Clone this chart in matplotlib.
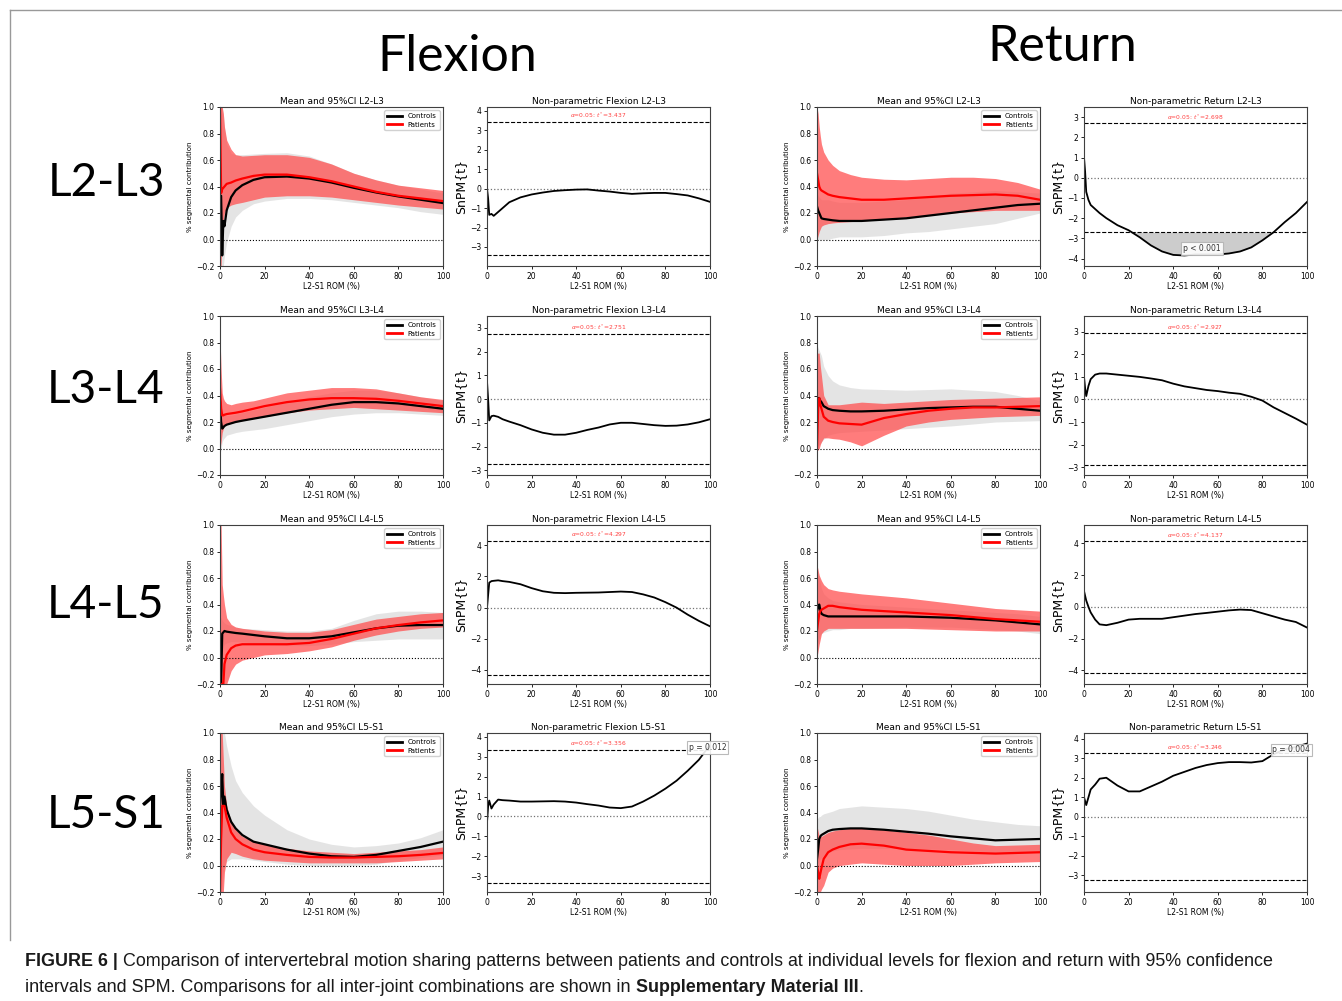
import numpy as np
import matplotlib
matplotlib.use("Agg")
from matplotlib import pyplot as plt
from matplotlib.lines import Line2D

# ---- data ----
LEVELS = ["L2-L3", "L3-L4", "L4-L5", "L5-S1"]

X_MEAN = [0, 0.5, 1, 1.5, 2, 3, 5, 7, 10, 15, 20, 30, 40, 50, 60, 70, 80, 90, 100]

# flexion, mean and 95% CI
flx_l23_ctrl = [0.33, 0.33, -0.12, 0.14, 0.10, 0.22, 0.32, 0.37, 0.41, 0.45, 0.47, 0.475, 0.46, 0.43, 0.39, 0.355, 0.325, 0.30, 0.275]
flx_l23_ctrl_lo = [-0.2, -0.2, -0.2, -0.2, -0.12, -0.02, 0.10, 0.17, 0.22, 0.27, 0.29, 0.31, 0.31, 0.30, 0.28, 0.26, 0.24, 0.21, 0.19]
flx_l23_ctrl_hi = [1.0, 1.0, 1.0, 0.95, 0.85, 0.72, 0.65, 0.64, 0.64, 0.645, 0.65, 0.655, 0.63, 0.57, 0.50, 0.45, 0.41, 0.38, 0.35]
flx_l23_pat = [1.0, 0.35, 0.38, 0.39, 0.40, 0.42, 0.43, 0.445, 0.46, 0.48, 0.49, 0.49, 0.47, 0.44, 0.40, 0.36, 0.33, 0.31, 0.29]
flx_l23_pat_lo = [-0.2, -0.2, 0.05, 0.15, 0.2, 0.24, 0.26, 0.27, 0.28, 0.30, 0.32, 0.33, 0.33, 0.32, 0.30, 0.28, 0.26, 0.245, 0.23]
flx_l23_pat_hi = [1.0, 1.0, 1.0, 0.95, 0.85, 0.75, 0.68, 0.64, 0.63, 0.635, 0.64, 0.64, 0.62, 0.57, 0.50, 0.45, 0.41, 0.39, 0.37]

flx_l34_ctrl = [0.35, 0.2, 0.15, 0.16, 0.17, 0.18, 0.19, 0.20, 0.21, 0.225, 0.24, 0.27, 0.30, 0.33, 0.35, 0.35, 0.34, 0.32, 0.30]
flx_l34_ctrl_lo = [-0.05, 0.0, 0.05, 0.07, 0.08, 0.1, 0.11, 0.12, 0.13, 0.14, 0.15, 0.18, 0.21, 0.24, 0.26, 0.27, 0.27, 0.26, 0.25]
flx_l34_ctrl_hi = [0.6, 0.45, 0.3, 0.27, 0.26, 0.25, 0.25, 0.26, 0.27, 0.29, 0.31, 0.35, 0.39, 0.42, 0.44, 0.44, 0.42, 0.39, 0.36]
flx_l34_pat = [0.45, 0.3, 0.25, 0.25, 0.255, 0.26, 0.265, 0.27, 0.28, 0.30, 0.32, 0.35, 0.37, 0.38, 0.38, 0.375, 0.36, 0.34, 0.32]
flx_l34_pat_lo = [0.0, 0.05, 0.12, 0.15, 0.17, 0.18, 0.19, 0.20, 0.21, 0.23, 0.24, 0.27, 0.29, 0.30, 0.31, 0.30, 0.29, 0.28, 0.27]
flx_l34_pat_hi = [0.85, 0.6, 0.42, 0.38, 0.36, 0.34, 0.33, 0.34, 0.35, 0.36, 0.38, 0.42, 0.44, 0.46, 0.46, 0.45, 0.42, 0.39, 0.37]

flx_l45_ctrl = [-0.2, -0.2, 0.18, 0.19, 0.20, 0.195, 0.19, 0.185, 0.18, 0.17, 0.16, 0.145, 0.145, 0.16, 0.19, 0.22, 0.24, 0.245, 0.245]
flx_l45_ctrl_lo = [-0.2, -0.2, 0.05, 0.08, 0.10, 0.11, 0.12, 0.12, 0.12, 0.11, 0.10, 0.09, 0.09, 0.10, 0.12, 0.13, 0.14, 0.14, 0.14]
flx_l45_ctrl_hi = [0.3, 0.3, 0.28, 0.27, 0.26, 0.25, 0.24, 0.23, 0.22, 0.215, 0.21, 0.2, 0.2, 0.22, 0.28, 0.33, 0.35, 0.35, 0.34]
flx_l45_pat = [-0.2, -0.2, -0.2, -0.2, -0.05, 0.02, 0.07, 0.09, 0.10, 0.10, 0.10, 0.10, 0.11, 0.14, 0.18, 0.22, 0.245, 0.265, 0.28]
flx_l45_pat_lo = [-0.2, -0.2, -0.2, -0.2, -0.2, -0.2, -0.1, -0.05, -0.02, 0.0, 0.02, 0.03, 0.05, 0.08, 0.13, 0.17, 0.20, 0.22, 0.23]
flx_l45_pat_hi = [1.0, 1.0, 0.55, 0.47, 0.40, 0.30, 0.25, 0.23, 0.22, 0.21, 0.20, 0.19, 0.19, 0.21, 0.25, 0.29, 0.31, 0.33, 0.34]

flx_l5s1_ctrl = [0.45, 0.55, 0.69, 0.45, 0.52, 0.42, 0.33, 0.28, 0.23, 0.18, 0.16, 0.12, 0.09, 0.07, 0.065, 0.08, 0.11, 0.14, 0.18]
flx_l5s1_ctrl_lo = [-0.2, -0.2, -0.15, -0.05, 0.0, 0.03, 0.05, 0.05, 0.05, 0.04, 0.03, 0.01, 0.0, 0.0, 0.0, 0.01, 0.04, 0.06, 0.08]
flx_l5s1_ctrl_hi = [1.0, 1.0, 1.0, 1.0, 1.0, 0.9, 0.75, 0.64, 0.55, 0.45, 0.38, 0.27, 0.2, 0.16, 0.14, 0.15, 0.17, 0.21, 0.27]
flx_l5s1_pat = [-0.2, 0.2, 0.45, 0.45, 0.45, 0.36, 0.25, 0.2, 0.16, 0.12, 0.10, 0.08, 0.065, 0.06, 0.06, 0.065, 0.07, 0.08, 0.095]
flx_l5s1_pat_lo = [-0.2, -0.2, -0.2, -0.2, -0.05, 0.05, 0.1, 0.09, 0.07, 0.05, 0.04, 0.03, 0.02, 0.02, 0.02, 0.02, 0.03, 0.04, 0.05]
flx_l5s1_pat_hi = [1.0, 1.0, 1.0, 0.8, 0.6, 0.45, 0.33, 0.27, 0.22, 0.18, 0.16, 0.13, 0.11, 0.10, 0.09, 0.10, 0.11, 0.12, 0.14]

# return, mean and 95% CI
ret_l23_ctrl = [0.25, 0.22, 0.2, 0.18, 0.16, 0.155, 0.15, 0.145, 0.14, 0.14, 0.14, 0.15, 0.16, 0.18, 0.20, 0.22, 0.24, 0.26, 0.27]
ret_l23_ctrl_lo = [0.0, 0.0, 0.0, 0.0, 0.0, 0.0, 0.0, 0.01, 0.02, 0.02, 0.02, 0.03, 0.05, 0.06, 0.08, 0.10, 0.12, 0.16, 0.2]
ret_l23_ctrl_hi = [0.35, 0.33, 0.32, 0.31, 0.3, 0.3, 0.3, 0.29, 0.28, 0.28, 0.28, 0.29, 0.3, 0.32, 0.35, 0.36, 0.37, 0.36, 0.35]
ret_l23_pat = [0.5, 0.45, 0.4, 0.38, 0.37, 0.36, 0.34, 0.33, 0.32, 0.31, 0.30, 0.30, 0.31, 0.32, 0.33, 0.335, 0.34, 0.33, 0.30]
ret_l23_pat_lo = [0.0, 0.03, 0.06, 0.08, 0.1, 0.11, 0.12, 0.125, 0.13, 0.135, 0.14, 0.15, 0.17, 0.185, 0.2, 0.21, 0.22, 0.22, 0.22]
ret_l23_pat_hi = [1.0, 0.95, 0.85, 0.78, 0.72, 0.66, 0.6, 0.56, 0.52, 0.49, 0.47, 0.455, 0.45, 0.46, 0.47, 0.47, 0.46, 0.43, 0.38]

ret_l34_ctrl = [0.2, 0.38, 0.38, 0.36, 0.35, 0.32, 0.30, 0.29, 0.285, 0.28, 0.28, 0.285, 0.295, 0.305, 0.31, 0.315, 0.315, 0.30, 0.285]
ret_l34_ctrl_lo = [0.0, 0.02, 0.03, 0.04, 0.05, 0.07, 0.1, 0.11, 0.12, 0.125, 0.13, 0.14, 0.15, 0.16, 0.17, 0.185, 0.2, 0.205, 0.21]
ret_l34_ctrl_hi = [0.78, 0.76, 0.74, 0.72, 0.7, 0.62, 0.55, 0.51, 0.48, 0.46, 0.45, 0.445, 0.44, 0.445, 0.45, 0.44, 0.43, 0.4, 0.36]
ret_l34_pat = [0.0, 0.3, 0.38, 0.33, 0.3, 0.24, 0.21, 0.2, 0.19, 0.185, 0.18, 0.23, 0.26, 0.285, 0.30, 0.31, 0.31, 0.315, 0.32]
ret_l34_pat_lo = [-0.02, -0.01, 0.0, 0.03, 0.05, 0.08, 0.08, 0.075, 0.07, 0.05, 0.02, 0.1, 0.17, 0.2, 0.22, 0.23, 0.24, 0.245, 0.25]
ret_l34_pat_hi = [0.72, 0.72, 0.72, 0.62, 0.55, 0.40, 0.33, 0.33, 0.33, 0.34, 0.35, 0.34, 0.35, 0.36, 0.37, 0.375, 0.38, 0.385, 0.39]

ret_l45_ctrl = [0.35, 0.38, 0.4, 0.36, 0.33, 0.32, 0.31, 0.31, 0.31, 0.31, 0.31, 0.31, 0.31, 0.305, 0.30, 0.29, 0.28, 0.265, 0.25]
ret_l45_ctrl_lo = [0.1, 0.12, 0.15, 0.17, 0.18, 0.19, 0.2, 0.21, 0.21, 0.22, 0.22, 0.225, 0.23, 0.23, 0.23, 0.22, 0.21, 0.2, 0.18]
ret_l45_ctrl_hi = [0.65, 0.62, 0.6, 0.56, 0.52, 0.48, 0.45, 0.43, 0.42, 0.41, 0.40, 0.39, 0.38, 0.37, 0.36, 0.35, 0.34, 0.33, 0.31]
ret_l45_pat = [0.2, 0.27, 0.33, 0.35, 0.36, 0.37, 0.39, 0.39, 0.38, 0.37, 0.36, 0.35, 0.34, 0.33, 0.32, 0.305, 0.29, 0.28, 0.27]
ret_l45_pat_lo = [0.0, 0.05, 0.1, 0.14, 0.18, 0.2, 0.22, 0.22, 0.22, 0.22, 0.22, 0.22, 0.22, 0.215, 0.21, 0.205, 0.2, 0.2, 0.2]
ret_l45_pat_hi = [0.7, 0.66, 0.62, 0.6, 0.58, 0.55, 0.52, 0.51, 0.5, 0.49, 0.48, 0.465, 0.45, 0.43, 0.41, 0.39, 0.37, 0.36, 0.35]

ret_l5s1_ctrl = [0.05, 0.12, 0.2, 0.22, 0.23, 0.24, 0.26, 0.27, 0.275, 0.28, 0.28, 0.27, 0.255, 0.24, 0.22, 0.205, 0.19, 0.195, 0.2]
ret_l5s1_ctrl_lo = [0.0, 0.02, 0.04, 0.05, 0.06, 0.08, 0.1, 0.11, 0.12, 0.125, 0.13, 0.13, 0.13, 0.125, 0.12, 0.11, 0.1, 0.1, 0.1]
ret_l5s1_ctrl_hi = [0.35, 0.36, 0.37, 0.37, 0.38, 0.39, 0.4, 0.41, 0.43, 0.44, 0.45, 0.44, 0.43, 0.41, 0.38, 0.35, 0.33, 0.31, 0.3]
ret_l5s1_pat = [0.0, -0.05, -0.1, -0.06, -0.02, 0.05, 0.1, 0.12, 0.14, 0.16, 0.165, 0.15, 0.12, 0.11, 0.1, 0.095, 0.09, 0.095, 0.1]
ret_l5s1_pat_lo = [-0.2, -0.2, -0.2, -0.2, -0.18, -0.15, -0.05, -0.02, 0.0, 0.01, 0.02, 0.01, 0.0, 0.0, 0.0, 0.01, 0.02, 0.025, 0.03]
ret_l5s1_pat_hi = [0.3, 0.26, 0.22, 0.22, 0.22, 0.23, 0.25, 0.26, 0.27, 0.28, 0.28, 0.27, 0.25, 0.23, 0.2, 0.17, 0.15, 0.155, 0.16]

# SnPM{t} curves
X_SPM = [0, 0.5, 1, 2, 3, 5, 7, 10, 15, 20, 25, 30, 35, 40, 45, 50, 55, 60, 65, 70, 75, 80, 85, 90, 95, 100]
flx_l23_t = [0.0, -0.5, -1.35, -1.3, -1.4, -1.2, -1.0, -0.7, -0.45, -0.3, -0.2, -0.12, -0.08, -0.05, -0.04, -0.1, -0.15, -0.22, -0.27, -0.24, -0.22, -0.22, -0.28, -0.35, -0.5, -0.68]
flx_l34_t = [0.75, 0.0, -0.9, -0.72, -0.7, -0.75, -0.85, -0.95, -1.1, -1.28, -1.42, -1.5, -1.5, -1.42, -1.3, -1.2, -1.07, -1.0, -1.0, -1.05, -1.1, -1.13, -1.12, -1.07, -0.98, -0.85]
flx_l45_t = [0.0, 0.8, 1.6, 1.7, 1.72, 1.75, 1.7, 1.65, 1.5, 1.25, 1.05, 0.95, 0.93, 0.95, 0.96, 0.97, 1.0, 1.03, 1.0, 0.85, 0.65, 0.35, 0.0, -0.45, -0.85, -1.2]
flx_l5s1_t = [-0.3, 0.5, 0.8, 0.4, 0.6, 0.85, 0.82, 0.8, 0.75, 0.75, 0.76, 0.77, 0.75, 0.7, 0.62, 0.55, 0.45, 0.42, 0.5, 0.75, 1.05, 1.4, 1.8, 2.3, 2.85, 3.6]
ret_l23_t = [1.0, 0.3, -0.7, -1.1, -1.35, -1.55, -1.75, -2.0, -2.35, -2.6, -2.95, -3.35, -3.65, -3.82, -3.85, -3.8, -3.8, -3.8, -3.75, -3.65, -3.45, -3.1, -2.7, -2.2, -1.75, -1.2]
ret_l34_t = [1.0, 0.5, 0.15, 0.6, 0.9, 1.1, 1.15, 1.15, 1.1, 1.05, 1.0, 0.93, 0.85, 0.7, 0.58, 0.5, 0.42, 0.37, 0.3, 0.25, 0.12, -0.05, -0.35, -0.6, -0.85, -1.12]
ret_l45_t = [1.0, 0.7, 0.4, 0.0, -0.35, -0.8, -1.1, -1.15, -1.0, -0.8, -0.75, -0.75, -0.75, -0.65, -0.55, -0.45, -0.38, -0.3, -0.22, -0.17, -0.2, -0.4, -0.6, -0.8, -0.95, -1.3]
ret_l5s1_t = [1.0, 0.8, 0.6, 1.0, 1.4, 1.65, 1.95, 2.0, 1.6, 1.3, 1.3, 1.55, 1.8, 2.1, 2.3, 2.5, 2.65, 2.75, 2.8, 2.8, 2.78, 2.85, 3.2, 3.45, 3.58, 3.75]

flx_thresh = [3.437, 2.751, 4.297, 3.356]
ret_thresh = [2.698, 2.927, 4.137, 3.246]

# cluster p values: (level index, label, x, y)
flx_clusters = [(3, "p = 0.012", 99, 3.45)]
ret_clusters = [(0, "p < 0.001", 53, -3.49), (3, "p = 0.004", 93, 3.42)]

flx_mean = [
    (flx_l23_ctrl, flx_l23_ctrl_lo, flx_l23_ctrl_hi, flx_l23_pat, flx_l23_pat_lo, flx_l23_pat_hi),
    (flx_l34_ctrl, flx_l34_ctrl_lo, flx_l34_ctrl_hi, flx_l34_pat, flx_l34_pat_lo, flx_l34_pat_hi),
    (flx_l45_ctrl, flx_l45_ctrl_lo, flx_l45_ctrl_hi, flx_l45_pat, flx_l45_pat_lo, flx_l45_pat_hi),
    (flx_l5s1_ctrl, flx_l5s1_ctrl_lo, flx_l5s1_ctrl_hi, flx_l5s1_pat, flx_l5s1_pat_lo, flx_l5s1_pat_hi),
]
ret_mean = [
    (ret_l23_ctrl, ret_l23_ctrl_lo, ret_l23_ctrl_hi, ret_l23_pat, ret_l23_pat_lo, ret_l23_pat_hi),
    (ret_l34_ctrl, ret_l34_ctrl_lo, ret_l34_ctrl_hi, ret_l34_pat, ret_l34_pat_lo, ret_l34_pat_hi),
    (ret_l45_ctrl, ret_l45_ctrl_lo, ret_l45_ctrl_hi, ret_l45_pat, ret_l45_pat_lo, ret_l45_pat_hi),
    (ret_l5s1_ctrl, ret_l5s1_ctrl_lo, ret_l5s1_ctrl_hi, ret_l5s1_pat, ret_l5s1_pat_lo, ret_l5s1_pat_hi),
]
flx_t = [flx_l23_t, flx_l34_t, flx_l45_t, flx_l5s1_t]
ret_t = [ret_l23_t, ret_l34_t, ret_l45_t, ret_l5s1_t]

flx_ylim = [(-3.98, 4.2), (-3.2, 3.5), (-4.9, 5.3), (-3.8, 4.2)]
ret_ylim = [(-4.37, 3.5), (-3.35, 3.7), (-4.85, 5.15), (-3.85, 4.29)]

TICK = 5.5

W, H = 1342, 1001
fig = plt.figure(figsize=(W / 100, H / 100), dpi=100)

col_left = [220, 487, 817, 1084]
row_bottom = [266, 475, 684, 892]
ax_w, ax_h = 223, 159


def style_axis(ax):
    ax.tick_params(labelsize=TICK, length=2.5, width=0.6, pad=1.5)
    for s in ax.spines.values():
        s.set_linewidth(0.8)
        s.set_color("0.25")
    ax.set_xlim(0, 100)
    ax.set_xticks([0, 20, 40, 60, 80, 100])
    ax.set_xlabel("L2-S1 ROM (%)", fontsize=TICK, labelpad=1)


def mean_panel(ax, data, level):
    c, clo, chi, p, plo, phi = data
    ax.fill_between(X_MEAN, clo, chi, color="lightgray", lw=0, alpha=0.6)
    ax.fill_between(X_MEAN, plo, phi, color="#ff5050", lw=0, alpha=0.75)
    ax.axhline(0, color="k", ls=":", lw=0.8)
    ax.plot(X_MEAN, c, color="k", lw=1.6)
    ax.plot(X_MEAN, p, color="red", lw=1.6)
    ax.set_ylim(-0.2, 1.0)
    ax.set_yticks([-0.2, 0.0, 0.2, 0.4, 0.6, 0.8, 1.0])
    ax.set_title("Mean and 95%CI " + level, fontsize=6.5, pad=2.5)
    ax.set_ylabel("% segmental contribution", fontsize=5, labelpad=2)
    handles = [Line2D([], [], color="k", lw=2), Line2D([], [], color="red", lw=2)]
    ax.legend(handles, ["Controls", "Patients"], loc="upper right", fontsize=5,
              handlelength=2.2, borderpad=0.4, labelspacing=0.35, framealpha=0.9,
              edgecolor="0.8", fancybox=True)
    style_axis(ax)


def spm_panel(ax, t, thr, ylim, title, clusters):
    t = np.array(t)
    x = np.array(X_SPM)
    ax.fill_between(x, t, thr, where=t > thr, interpolate=True, color="0.8", lw=0)
    ax.fill_between(x, t, -thr, where=t < -thr, interpolate=True, color="0.8", lw=0)
    ax.axhline(0, color="0.45", ls=":", lw=0.9)
    ax.axhline(thr, color="k", ls="--", lw=0.8)
    ax.axhline(-thr, color="k", ls="--", lw=0.8)
    ax.plot(x, t, color="k", lw=1.3)
    ax.text(50, thr + 0.01 * (ylim[1] - ylim[0]),
            r"$\alpha$=0.05: $t^*$=%.3f" % thr, color="#ff4040", fontsize=4.3,
            ha="center", va="bottom")
    for lab, cx, cy in clusters:
        ax.text(cx, cy, lab, fontsize=5.5, ha="center", va="center", color="0.2",
                bbox=dict(boxstyle="square,pad=0.25", fc="white", ec="0.7", lw=0.8, alpha=0.9),
                zorder=5, clip_on=False)
    ax.set_ylim(*ylim)
    ax.set_title(title, fontsize=6.5, pad=2.5)
    ax.set_ylabel("SnPM{t}", fontsize=9, labelpad=2)
    style_axis(ax)


for i, level in enumerate(LEVELS):
    b = 1 - row_bottom[i] / H
    axes = [fig.add_axes([col_left[j] / W, b, ax_w / W, ax_h / H]) for j in range(4)]
    mean_panel(axes[0], flx_mean[i], level)
    spm_panel(axes[1], flx_t[i], flx_thresh[i], flx_ylim[i], "Non-parametric Flexion " + level,
              [(lab, cx, cy) for k, lab, cx, cy in flx_clusters if k == i])
    mean_panel(axes[2], ret_mean[i], level)
    spm_panel(axes[3], ret_t[i], ret_thresh[i], ret_ylim[i], "Non-parametric Return " + level,
              [(lab, cx, cy) for k, lab, cx, cy in ret_clusters if k == i])

# column headings and row labels
fig.text(457 / W, 1 - 57 / H, "Flexion", fontsize=36, family="Lato", ha="center", va="center")
fig.text(1062 / W, 1 - 47 / H, "Return", fontsize=36, family="Lato", ha="center", va="center")
row_y = [183, 390, 605, 815]
for lab, y in zip(LEVELS, row_y):
    fig.text(106 / W, 1 - y / H, lab, fontsize=33, family="Lato", ha="center", va="center")

# frame
fig.add_artist(Line2D([10 / W, 1342 / W], [1 - 10 / H, 1 - 10 / H], color="0.6", lw=1))
fig.add_artist(Line2D([10 / W, 10 / W], [1 - 10 / H, 1 - 940 / H], color="0.6", lw=1))

# caption, mixed bold/regular
cap_fs = 12.9
fig.canvas.draw()
r = fig.canvas.get_renderer()


def run_text(x_px, y_px, parts):
    for s, bold in parts:
        t = fig.text(x_px / W, 1 - y_px / H, s, fontsize=cap_fs, family="Liberation Sans",
                     weight="bold" if bold else "normal", ha="left", va="baseline", color="0.1")
        x_px += t.get_window_extent(r).width


run_text(25, 966, [("FIGURE 6 | ", True),
                   ("Comparison of intervertebral motion sharing patterns between patients and controls at individual levels for flexion and return with 95% confidence", False)])
run_text(25, 992, [("intervals and SPM. Comparisons for all inter-joint combinations are shown in ", False),
                   ("Supplementary Material III", True), (".", False)])

fig.savefig("out.png", dpi=100)
